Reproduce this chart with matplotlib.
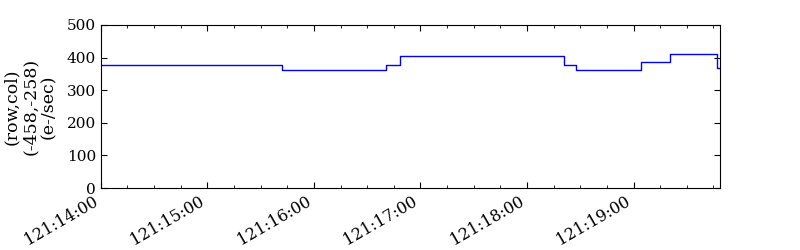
#!/usr/bin/env python3
# -*- coding: UTF-8 -*-
import matplotlib
matplotlib.use('Agg')
import matplotlib.pyplot as plt
from matplotlib.ticker import FuncFormatter, MultipleLocator

# step change times (DOY:HH:MM:SS) and values in e-/sec
times = ["121:14:00:00", "121:15:41:48", "121:16:40:42", "121:16:48:18",
         "121:18:20:48", "121:18:27:48", "121:19:04:00", "121:19:20:42",
         "121:19:47:12", "121:19:48:42"]
values = [376, 363, 376, 404, 376, 363, 386, 410, 369, 369]
ylabel = "(row,col)\n(-458,-258)\n(e-/sec)"

T0 = 121 * 86400 + 14 * 3600


def to_sec(s):
    d, h, m, sec = s.split(':')
    return int(d) * 86400 + int(h) * 3600 + int(m) * 60 + float(sec) - T0


def fmt_time(x, pos):
    # tick labels read DOY:HH:MM
    t = int(round(x + T0))
    return '%d:%02d:%02d' % (t // 86400, (t % 86400) // 3600, (t % 3600) // 60)


xs = [to_sec(t) for t in times]

plt.rcParams['font.family'] = 'DejaVu Serif'
plt.rcParams['font.size'] = 11

fig = plt.figure(figsize=(8, 2.5), dpi=100)
ax = fig.add_axes([0.126, 0.248, 0.774, 0.652])
ax.step(xs, values, where='post', color='#0000ff', linewidth=1)

ax.set_xlim(xs[0], xs[-1])
ax.set_ylim(0, 500)
ax.yaxis.set_major_locator(MultipleLocator(100))
ax.xaxis.set_major_locator(MultipleLocator(3600))
ax.xaxis.set_minor_locator(MultipleLocator(900))
ax.xaxis.set_major_formatter(FuncFormatter(fmt_time))
ax.tick_params(which='both', direction='in', top=True, right=True)
ax.tick_params(which='major', length=4)
ax.tick_params(which='minor', length=2)
ax.tick_params(axis='y', labelsize=11)
ax.tick_params(axis='x', labelsize=11.5)
for lab in ax.get_xticklabels():
    lab.set_rotation(30)
    lab.set_ha('right')
ax.set_ylabel(ylabel, multialignment='center', fontsize=12.5, labelpad=7,
              linespacing=1.1)

fig.savefig('out.png', dpi=100)
